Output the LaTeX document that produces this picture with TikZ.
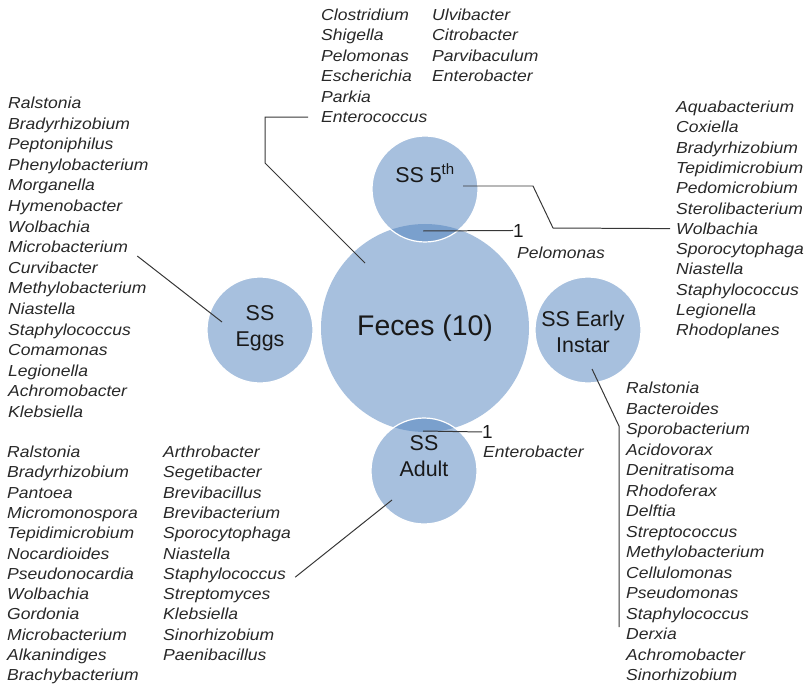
\documentclass[tikz,border=0pt]{standalone}
\usepackage{fontspec}
\setmainfont{Liberation Sans}
\newfontfamily\genusfont[FakeStretch=1.1]{Liberation Sans}
\usetikzlibrary{calc}
\definecolor{bubblefill}{RGB}{79,129,189}
\definecolor{leadergray}{RGB}{55,55,55}
\definecolor{genusgray}{RGB}{40,40,40}
\tikzset{
	bubble/.style={circle, fill=bubblefill, fill opacity=0.5, text opacity=1,
		draw=white, line width=1.2pt, inner sep=0pt, minimum size=106bp},
	ringlabel/.style={align=center, inner sep=0pt, text=black!90,
		font=\fontsize{21.5}{26}\selectfont},
	genus/.style={anchor=base west, inner sep=0pt, text=genusgray,
		font=\genusfont\itshape\fontsize{16}{19}\selectfont},
	sharedcount/.style={anchor=base west, inner sep=0pt, text=black!90,
		font=\fontsize{19}{22}\selectfont},
	leader/.style={draw=leadergray, line width=1pt}
}
\begin{document}
\begin{tikzpicture}[x=1bp, y=-1bp]
	\useasboundingbox (0,0) rectangle (808,685);

	% circles
	\node[bubble, draw=none, minimum size=208bp] (feces) at (425,328) {};
	\node[bubble] (fifth) at (425,189) {};
	\node[bubble] (eggs) at (260,330) {};
	\node[bubble] (early) at (588,330) {};
	\node[bubble] (adult) at (424,471) {};

	\node[ringlabel, font=\fontsize{28.5}{32}\selectfont] (fecestext) at (feces.center) {Feces (10)};
	\node[ringlabel] (fifthtext) at ($(fifth.center)+(0,-16)$) {SS 5\textsuperscript{th}};
	\node[ringlabel] (eggstext) at ($(eggs.center)+(0,-2)$) {SS\\Eggs};
	\node[ringlabel] (earlytext) at ($(early.center)+(-5,2)$) {SS Early\\Instar};
	\node[ringlabel] (adulttext) at ($(adult.center)+(0,-15)$) {SS\\Adult};

	% genus lists
	\foreach \g [count=\i from 0] in {Clostridium, Shigella, Pelomonas,
		Escherichia, Parkia, Enterococcus}
	{
		\node[genus] (fecesA\i) at (321,{20.5+20.4*\i}) {\g};
	};
	\foreach \g [count=\i from 0] in {Ulvibacter, Citrobacter, Parvibaculum,
		Enterobacter}
	{
		\node[genus] (fecesB\i) at (432,{20.5+20.4*\i}) {\g};
	};
	\foreach \g [count=\i from 0] in {Ralstonia, Bradyrhizobium, Peptoniphilus,
		Phenylobacterium, Morganella, Hymenobacter, Wolbachia, Microbacterium,
		Curvibacter, Methylobacterium, Niastella, Staphylococcus, Comamonas,
		Legionella, Achromobacter, Klebsiella}
	{
		\node[genus] (eggslist\i) at (8,{108.5+20.6*\i}) {\g};
	};
	\foreach \g [count=\i from 0] in {Aquabacterium, Coxiella, Bradyrhizobium,
		Tepidimicrobium, Pedomicrobium, Sterolibacterium, Wolbachia,
		Sporocytophaga, Niastella, Staphylococcus, Legionella, Rhodoplanes}
	{
		\node[genus] (fifthlist\i) at (676,{112.5+20.3*\i}) {\g};
	};
	\foreach \g [count=\i from 0] in {Ralstonia, Bacteroides, Sporobacterium,
		Acidovorax, Denitratisoma, Rhodoferax, Delftia, Streptococcus,
		Methylobacterium, Cellulomonas, Pseudomonas, Staphylococcus, Derxia,
		Achromobacter, Sinorhizobium}
	{
		\node[genus] (earlylist\i) at (626,{393.5+20.5*\i}) {\g};
	};
	\foreach \g [count=\i from 0] in {Ralstonia, Bradyrhizobium, Pantoea,
		Micromonospora, Tepidimicrobium, Nocardioides, Pseudonocardia, Wolbachia,
		Gordonia, Microbacterium, Alkanindiges, Brachybacterium}
	{
		\node[genus] (adultA\i) at (7,{457.5+20.3*\i}) {\g};
	};
	\foreach \g [count=\i from 0] in {Arthrobacter, Segetibacter, Brevibacillus,
		Brevibacterium, Sporocytophaga, Niastella, Staphylococcus, Streptomyces,
		Klebsiella, Sinorhizobium, Paenibacillus}
	{
		\node[genus] (adultB\i) at (163,{457.5+20.3*\i}) {\g};
	};

	% shared genera
	\node[sharedcount] (topcount) at (513,237) {1};
	\node[genus] (topshared) at (517,258.5) {Pelomonas};
	\node[sharedcount] (bottomcount) at (482,438.5) {1};
	\node[genus] (bottomshared) at (483,457.5) {Enterobacter};

	% leaders
	\coordinate (fecesbend) at (265,163);
	\coordinate (fifthbendA) at (533,186);
	\coordinate (fifthbendB) at (553,228);
	\coordinate (earlybend) at (619,426);
	\coordinate (earlyend) at (619,627);

	\draw[leader] ([xshift=-13bp]fecesA5.west) -| (fecesbend)
		-- ($(feces.center)+(-60,-65)$);
	\draw[leader] ($(fifth.center)+(38,-3)$) -- (fifthbendA) -- (fifthbendB)
		-- ([xshift=-6bp]fifthlist6.west);
	\draw[leader] ([xshift=9bp,yshift=-9bp]eggslist7.east)
		-- ($(eggs.center)+(-38,-8)$);
	\draw[leader] ($(early.center)+(4,39)$) -- (earlybend) -- (earlyend);
	\draw[leader] ($(adult.center)+(-32,29)$)
		-- ([xshift=9bp,yshift=-2bp]adultB6.east);
	\draw[leader] ($(fifth.center)+(-2,42)$) -- (topcount.west);
	\draw[leader] ($(adult.center)+(-1,-40)$) -- (bottomcount.west);
\end{tikzpicture}
\end{document}
